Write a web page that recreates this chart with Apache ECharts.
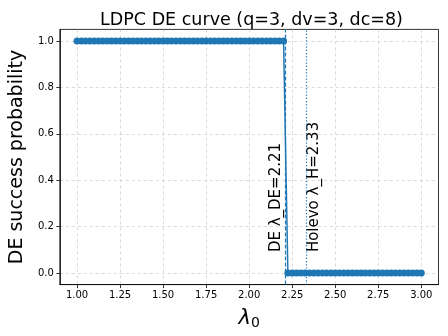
<!DOCTYPE html>
<html>
<head>
<meta charset="utf-8">
<script src="https://cdn.jsdelivr.net/npm/echarts@6/dist/echarts.min.js"></script>
<style>
  html, body { margin: 0; padding: 0; background: #fff; }
  #chart { width: 448px; height: 336px; }
</style>
</head>
<body>
<div id="chart"></div>
<script>
// lambda_0 grid and DE success probability
const lambdas = [
  1.000, 1.025, 1.050, 1.075, 1.100, 1.125, 1.150, 1.175, 1.200, 1.225,
  1.250, 1.275, 1.300, 1.325, 1.350, 1.375, 1.400, 1.425, 1.450, 1.475,
  1.500, 1.525, 1.550, 1.575, 1.600, 1.625, 1.650, 1.675, 1.700, 1.725,
  1.750, 1.775, 1.800, 1.825, 1.850, 1.875, 1.900, 1.925, 1.950, 1.975,
  2.000, 2.025, 2.050, 2.075, 2.100, 2.125, 2.150, 2.175, 2.200, 2.225,
  2.250, 2.275, 2.300, 2.325, 2.350, 2.375, 2.400, 2.425, 2.450, 2.475,
  2.500, 2.525, 2.550, 2.575, 2.600, 2.625, 2.650, 2.675, 2.700, 2.725,
  2.750, 2.775, 2.800, 2.825, 2.850, 2.875, 2.900, 2.925, 2.950, 2.975,
  3.000
];
const success = [
  1, 1, 1, 1, 1, 1, 1, 1, 1, 1,
  1, 1, 1, 1, 1, 1, 1, 1, 1, 1,
  1, 1, 1, 1, 1, 1, 1, 1, 1, 1,
  1, 1, 1, 1, 1, 1, 1, 1, 1, 1,
  1, 1, 1, 1, 1, 1, 1, 1, 1, 0,
  0, 0, 0, 0, 0, 0, 0, 0, 0, 0,
  0, 0, 0, 0, 0, 0, 0, 0, 0, 0,
  0, 0, 0, 0, 0, 0, 0, 0, 0, 0,
  0
];
const xTicks = [1.0, 1.25, 1.5, 1.75, 2.0, 2.25, 2.5, 2.75, 3.0];
const yTicks = [0.0, 0.2, 0.4, 0.6, 0.8, 1.0];
const lamDE = 2.21;
const lamH = 2.33;

const blue = '#1f77b4';
const font = 'DejaVu Sans';

let chart = echarts.init(document.getElementById('chart'));

let options = {
  animation: false,
  title: {
    text: 'LDPC DE curve (q=3, dv=3, dc=8)',
    left: 246.5,
    top: 6,
    textAlign: 'center',
    textStyle: {fontFamily: font, fontSize: 17.5, fontWeight: 'normal', color: '#000'}
  },
  grid: {
    left: 54.5, right: 9.5, top: 29.4, bottom: 51.4,
    show: true, borderColor: '#000', borderWidth: 0.8,
    containLabel: false
  },
  xAxis: {
    type: 'value',
    min: 0.9, max: 3.1,
    name: '{l|λ}{s|0}',
    nameLocation: 'middle',
    nameGap: 22,
    nameTextStyle: {
      rich: {
        l: {fontFamily: font, fontSize: 21, fontStyle: 'italic', color: '#000'},
        s: {fontFamily: font, fontSize: 14, color: '#000', verticalAlign: 'bottom', padding: [10, 0, 0, 0]}
      }
    },
    axisLine: {show: true, onZero: false, lineStyle: {color: '#000', width: 0.8}},
    axisTick: {show: true, length: 3.5, lineStyle: {color: '#000', width: 0.8}, customValues: xTicks},
    axisLabel: {
      customValues: xTicks, margin: 6,
      fontFamily: font, fontSize: 10, color: '#000',
      formatter: v => v.toFixed(2)
    },
    splitLine: {show: true, lineStyle: {color: '#b0b0b0', type: [3, 3], width: 0.8, opacity: 0.6}}
  },
  yAxis: {
    type: 'value',
    min: -0.05, max: 1.05,
    name: 'DE success probability',
    nameLocation: 'middle',
    nameGap: 31,
    nameTextStyle: {fontFamily: font, fontSize: 19, color: '#000'},
    axisLine: {show: true, onZero: false, lineStyle: {color: '#000', width: 0.8}},
    axisTick: {show: true, length: 3.5, lineStyle: {color: '#000', width: 0.8}, customValues: yTicks},
    axisLabel: {
      customValues: yTicks, margin: 6,
      fontFamily: font, fontSize: 10, color: '#000',
      formatter: v => v.toFixed(1)
    },
    splitLine: {show: true, lineStyle: {color: '#b0b0b0', type: [3, 3], width: 0.8, opacity: 0.6}}
  },
  series: [
    {
      type: 'line',
      data: lambdas.map((x, i) => [x, success[i]]),
      symbol: 'circle',
      symbolSize: 7,
      showSymbol: true,
      itemStyle: {color: blue},
      lineStyle: {color: blue, width: 1.5},
      z: 3,
      markLine: {
        silent: true,
        symbol: 'none',
        label: {show: false},
        data: [
          {xAxis: lamDE, lineStyle: {color: blue, type: [4, 2], width: 1.2}},
          {xAxis: lamH, lineStyle: {color: blue, type: [1.2, 2], width: 1.2}}
        ]
      }
    }
  ]
};

chart.setOption(options);

// 竖线旁的文字
let pDE = chart.convertToPixel({gridIndex: 0}, [lamDE, 0.09]);
let pH = chart.convertToPixel({gridIndex: 0}, [lamH, 0.09]);
chart.setOption({
  graphic: [
    {
      type: 'text', x: pDE[0] - 9.5, y: pDE[1], rotation: Math.PI / 2,
      style: {text: 'DE λ_DE=2.21', fontFamily: font, fontSize: 15, fill: '#000',
              textAlign: 'left', textVerticalAlign: 'middle'}
    },
    {
      type: 'text', x: pH[0] + 8.5, y: pH[1], rotation: Math.PI / 2,
      style: {text: 'Holevo λ_H=2.33', fontFamily: font, fontSize: 15, fill: '#000',
              textAlign: 'left', textVerticalAlign: 'middle'}
    }
  ]
});
</script>
</body>
</html>
